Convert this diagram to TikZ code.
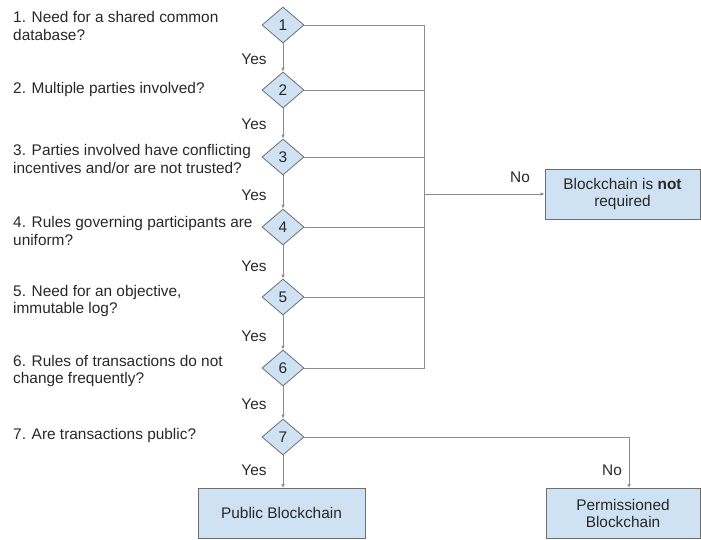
\documentclass[tikz,border=0pt]{standalone}
\usepackage{fontspec}
\setmainfont{Liberation Sans}
\usetikzlibrary{shapes.geometric,arrows.meta}
\definecolor{boxfill}{RGB}{207,226,243}
\definecolor{boxline}{RGB}{110,110,110}
\definecolor{conn}{RGB}{140,140,140}
\definecolor{txt}{RGB}{40,40,40}
\begin{document}
\begin{tikzpicture}[x=1pt,y=-1pt,
  every node/.style={font=\fontsize{15.4}{17.8}\selectfont, text=txt},
  dia/.style={shape=diamond, draw=boxline, fill=boxfill, line width=0.8pt, minimum width=42pt, minimum height=36pt, inner sep=0pt},
  qtext/.style={anchor=west, align=left, inner sep=0pt},
  lab/.style={inner sep=0pt},
  outbox/.style={draw=boxline, fill=boxfill, line width=0.8pt, align=center, inner sep=0pt},
  arr/.style={draw=conn, line width=0.9pt, -{Latex[length=4pt,width=3.5pt]}},
  ln/.style={draw=conn, line width=0.9pt}
]
\useasboundingbox (0,0) rectangle (701,539);

% diamonds
\node[dia] (q1) at (283,25) {1};
\node[dia] (q2) at (283,90) {2};
\node[dia] (q3) at (283,157) {3};
\node[dia] (q4) at (283,227) {4};
\node[dia] (q5) at (283,297) {5};
\node[dia] (q6) at (283,368) {6};
\node[dia] (q7) at (283,437) {7};

% question texts
\node[qtext] (t1) at (13,26) {1. Need for a shared common\\database?};
\node[qtext] (t2) at (13,90) {2. Multiple parties involved?};
\node[qtext] (t3) at (13,159) {3. Parties involved have conflicting\\incentives and/or are not trusted?};
\node[qtext] (t4) at (13,231) {4. Rules governing participants are\\uniform?};
\node[qtext] (t5) at (13,301) {5. Need for an objective,\\immutable log?};
\node[qtext] (t6) at (13,371) {6. Rules of transactions do not\\change frequently?};
\node[qtext] (t7) at (13,436) {7. Are transactions public?};

% Yes labels
\node[lab] (y1) at (254,59) {Yes};
\node[lab] (y2) at (254,124) {Yes};
\node[lab] (y3) at (254,195) {Yes};
\node[lab] (y4) at (254,266) {Yes};
\node[lab] (y5) at (254,336) {Yes};
\node[lab] (y6) at (254,404) {Yes};
\node[lab] (y7) at (254,470) {Yes};

% result boxes
\node[outbox, minimum width=155pt, minimum height=50pt] (nr) at (622.5,194) {Blockchain is \textbf{not}\\required};
\node[outbox, minimum width=167pt, minimum height=50pt, anchor=north] (pub) at (281.5,488) {Public Blockchain};
\node[outbox, minimum width=154pt, minimum height=50pt, anchor=north] (perm) at (623,488) {Permissioned\\Blockchain};

% No labels
\node[lab] (n1) at (520,177) {No};
\node[lab] (n2) at (612,470) {No};

% yes arrows
\draw[arr] (q1.south) -- (q2.north);
\draw[arr] (q2.south) -- (q3.north);
\draw[arr] (q3.south) -- (q4.north);
\draw[arr] (q4.south) -- (q5.north);
\draw[arr] (q5.south) -- (q6.north);
\draw[arr] (q6.south) -- (q7.north);
\draw[arr] (q7.south) -- (q7.south |- pub.north);

% no lines
\coordinate (bus) at (424,194);
\draw[ln] (q1.east) -| (bus);
\draw[ln] (q6.east) -| (bus);
\draw[ln] (q2.east) -- (q2.east -| bus);
\draw[ln] (q3.east) -- (q3.east -| bus);
\draw[ln] (q4.east) -- (q4.east -| bus);
\draw[ln] (q5.east) -- (q5.east -| bus);
\draw[arr] (bus) -- (nr.west);
\draw[arr] (q7.east) -| ([xshift=6pt]perm.north);
\end{tikzpicture}
\end{document}
